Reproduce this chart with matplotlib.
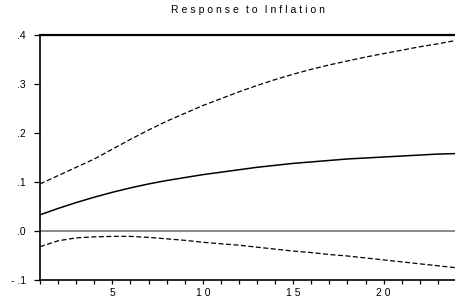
import numpy as np
import matplotlib
matplotlib.use("Agg")
import matplotlib.pyplot as plt
from matplotlib.ticker import FixedLocator, FuncFormatter

periods = list(range(1, 25))
response = [0.033, 0.046, 0.058, 0.069, 0.079, 0.088, 0.096, 0.103, 0.109, 0.115,
            0.120, 0.125, 0.130, 0.134, 0.138, 0.141, 0.144, 0.147, 0.149, 0.151,
            0.153, 0.155, 0.157, 0.158]
upper = [0.096, 0.113, 0.130, 0.147, 0.167, 0.187, 0.206, 0.224, 0.240, 0.256,
         0.270, 0.284, 0.297, 0.309, 0.320, 0.330, 0.339, 0.347, 0.355, 0.362,
         0.369, 0.376, 0.382, 0.389]
lower = [-0.032, -0.020, -0.014, -0.012, -0.011, -0.011, -0.013, -0.016, -0.019, -0.023,
         -0.026, -0.029, -0.033, -0.037, -0.041, -0.044, -0.048, -0.051, -0.055, -0.059,
         -0.063, -0.067, -0.071, -0.075]
yticks = [-0.1, 0.0, 0.1, 0.2, 0.3, 0.4]
xlabels = [5, 10, 15, 20]
title = 'Response to Inflation'

plt.rcParams['font.family'] = ['Liberation Sans', 'DejaVu Sans']

fig = plt.figure(figsize=(4.56, 3.04), dpi=100)
ax = fig.add_axes([40 / 456, 1 - 280 / 304, 1 - 40 / 456, (280 - 35) / 304])

ax.axhline(0, color='#808080', lw=1.3, zorder=1)
ax.plot(periods, response, color='black', lw=1.1)
ax.plot(periods, upper, color='black', lw=0.9, ls=(0, (4, 2)))
ax.plot(periods, lower, color='black', lw=0.9, ls=(0, (4, 2)))

ax.set_xlim(1, 24)
ax.set_ylim(-0.1, 0.4)

ax.xaxis.set_major_locator(FixedLocator(periods))
ax.xaxis.set_major_formatter(FuncFormatter(lambda v, p: ' '.join(str(int(v))) if int(v) in xlabels else ''))
ax.yaxis.set_major_locator(FixedLocator(yticks))


def yfmt(v, p):
    s = '%.1f' % v
    s = s.replace('0.', '.')
    return s.replace('-', '- ')


ax.yaxis.set_major_formatter(FuncFormatter(yfmt))
ax.tick_params(axis='x', direction='out', length=3, width=0.9, labelsize=7.5, pad=3)
ax.tick_params(axis='y', direction='out', length=4.5, width=0.9, labelsize=7.5, pad=5.5)

for s in ['left', 'bottom']:
    ax.spines[s].set_linewidth(1.2)
ax.spines['top'].set_linewidth(1.6)
ax.spines['right'].set_visible(False)

# EViews-style tracked title
spaced = '\u2009 \u2009'.join('\u2009\u200a'.join(w) for w in title.split(' '))
fig.text(248 / 456, 1 - 10 / 304, spaced, ha='center', va='center', fontsize=7.5)

fig.savefig('out.png', dpi=100)
